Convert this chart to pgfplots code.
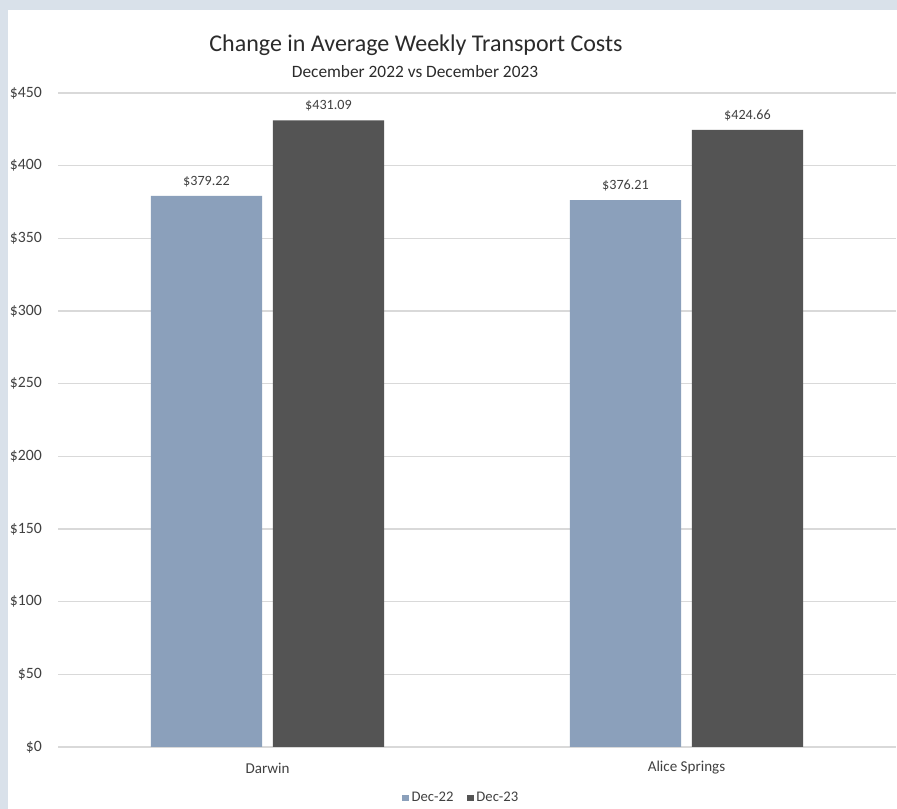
\documentclass[border=0pt]{standalone}
\usepackage{pgfplots}
\pgfplotsset{compat=1.18}
\usepackage{fontspec}
\setmainfont{Carlito}
\definecolor{bgblue}{HTML}{D9E1EA}
\definecolor{cA}{HTML}{8BA0BB}
\definecolor{cB}{HTML}{545454}
\definecolor{gridc}{HTML}{D9D9D9}
\definecolor{txt}{HTML}{404040}
\definecolor{ttl}{HTML}{2B2B2B}
\begin{document}
\begin{tikzpicture}
\useasboundingbox (0,0) rectangle (672.75pt,606.75pt);
\fill[bgblue] (0,0) rectangle (672.75pt,606.75pt);
\fill[white] (6pt,0) rectangle (672.75pt,599.25pt);
\begin{axis}[
  at={(43.5pt,46.5pt)}, anchor=south west,
  scale only axis, width=628.5pt, height=490.5pt,
  xmin=-0.5, xmax=1.5, ymin=0, ymax=450,
  axis line style={draw=none},
  major tick length=0pt,
  ymajorgrids, grid style={gridc, line width=1.1pt},
  ytick={0,50,...,450},
  yticklabels={\$0,\$50,\$100,\$150,\$200,\$250,\$300,\$350,\$400,\$450},
  yticklabel style={font=\fontsize{11.8}{12}\selectfont, text=txt, inner sep=0pt, anchor=east, xshift=-12pt},
  xtick={0,1}, xticklabels={Darwin,Alice Springs},
  xticklabel style={font=\fontsize{11.3}{12}\selectfont, text=txt, inner sep=0pt, anchor=center, yshift=-15.75pt},
  /pgf/number format/assume math mode=true,
  ybar, bar width=0.265,
  nodes near coords={\$\pgfmathprintnumber[fixed,fixed zerofill,precision=2]{\pgfplotspointmeta}},
  nodes near coords style={font=\fontsize{10.6}{12}\selectfont, text=txt, anchor=center, inner sep=0pt, yshift=10.8pt},
  clip=false,
  legend style={at={(0.4815,-0.078)}, anchor=center, draw=none, fill=none,
    legend columns=2, font=\fontsize{11}{12}\selectfont, text=txt,
    /tikz/every even column/.append style={column sep=8pt}},
  legend cell align=left,
]
\addplot[fill=cA, draw=none, bar shift=-0.1456,
  legend image code/.code={\fill[cA] (0pt,-2.6pt) rectangle (5.2pt,2.6pt);}]
  coordinates {(0,379.22) (1,376.21)};
\addlegendentry{Dec-22}
\addplot[fill=cB, draw=none, bar shift=0.1456,
  legend image code/.code={\fill[cB] (0pt,-2.6pt) rectangle (5.2pt,2.6pt);}]
  coordinates {(0,431.09) (1,424.66)};
\addlegendentry{Dec-23}
\node[font=\fontsize{18}{20}\selectfont, text=ttl] at (axis description cs:0.4272,1.0734) {Change in Average Weekly Transport Costs};
\node[font=\fontsize{13}{15}\selectfont, text=ttl] at (axis description cs:0.426,1.0321) {December 2022 vs December 2023};
\end{axis}
\end{tikzpicture}
\end{document}
